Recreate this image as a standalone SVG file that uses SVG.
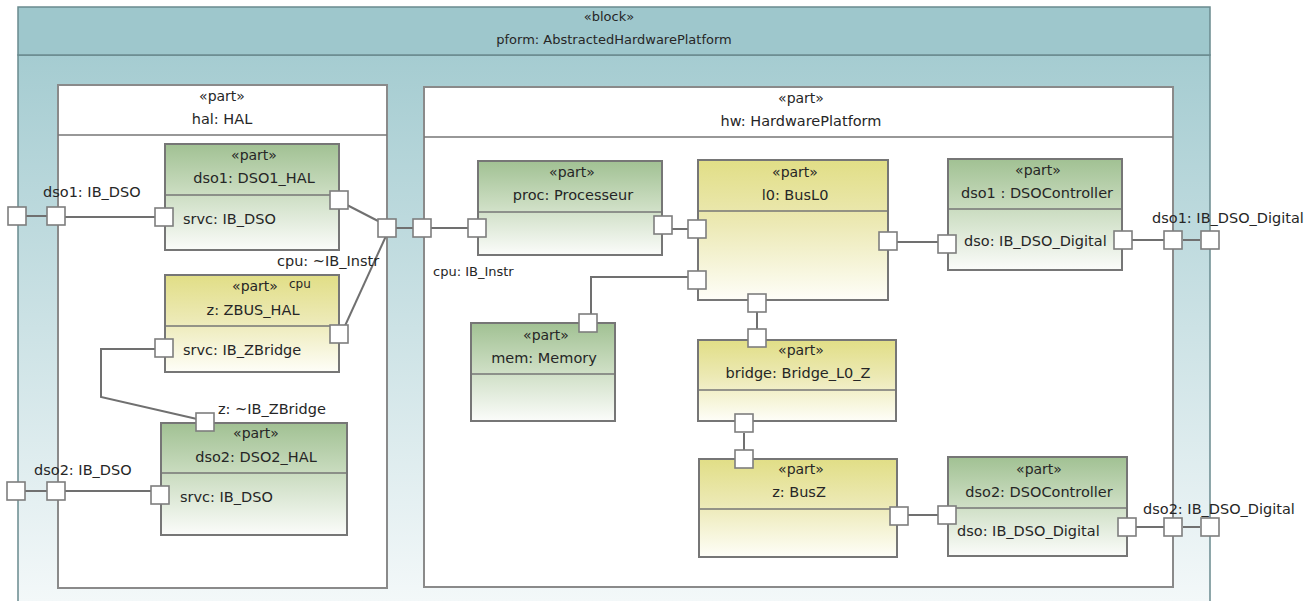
<svg xmlns="http://www.w3.org/2000/svg" width="1316" height="601" viewBox="0 0 1316 601">
<defs>
<linearGradient id="gBody" x1="0" y1="55" x2="0" y2="601" gradientUnits="userSpaceOnUse">
<stop offset="0" stop-color="#a5ccd1"/><stop offset="1" stop-color="#f3f8f9"/>
</linearGradient>
<linearGradient id="gGreen" x1="0" y1="0" x2="0" y2="1">
<stop offset="0" stop-color="#a1c193"/><stop offset="0.45" stop-color="#cadcc0"/><stop offset="1" stop-color="#fbfcfa"/>
</linearGradient>
<linearGradient id="gYellow" x1="0" y1="0" x2="0" y2="1">
<stop offset="0" stop-color="#e1de86"/><stop offset="0.45" stop-color="#ece9b4"/><stop offset="1" stop-color="#fefef8"/>
</linearGradient>
<clipPath id="clipCpu"><rect x="0" y="240" width="380" height="40"/></clipPath>
</defs>
<style>
text{font-family:"DejaVu Sans","Liberation Sans",sans-serif;fill:#262626;font-size:14.5px}
.st{font-size:14px;text-anchor:middle}
.nm{text-anchor:middle}
.lb{font-size:14.5px}
.box{stroke:#767676;stroke-width:2}
.cont{fill:#fff;stroke:#8a8a8a;stroke-width:2}
.div{stroke:#767676;stroke-width:1.3}
.port{fill:#fff;stroke:#7e7e7e;stroke-width:1.6}
.cn{fill:none;stroke:#707070;stroke-width:2}
.green{fill:url(#gGreen)}
.yellow{fill:url(#gYellow)}
</style>

<g id="pform">
<rect x="18" y="55" width="1192" height="550" fill="url(#gBody)" stroke="#6a8a8f" stroke-width="1.5"/>
<rect x="18" y="7" width="1192" height="48" fill="#9ec7cc" stroke="#6a8a8f" stroke-width="1.5"/>
<text class="st" x="609" y="21" style="font-size:13px">«block»</text>
<text class="nm" x="614" y="44" style="font-size:13px">pform: AbstractedHardwarePlatform</text>
</g>

<g id="hal">
<rect class="cont" x="58" y="85" width="329" height="503"/>
<line class="div" x1="58" y1="135" x2="387" y2="135"/>
<text class="st" x="222" y="101">«part»</text>
<text class="nm" x="222" y="124">hal: HAL</text>
</g>

<g id="hw">
<rect class="cont" x="424" y="87" width="749" height="500"/>
<line class="div" x1="424" y1="137" x2="1173" y2="137"/>
<text class="st" x="801" y="103">«part»</text>
<text class="nm" x="801" y="126">hw: HardwarePlatform</text>
</g>

<g id="connectors">
<polyline class="cn" points="26,216 47,216"/>
<polyline class="cn" points="65,217 155,217"/>
<polyline class="cn" points="25,491 47,491"/>
<polyline class="cn" points="65,491 151,491"/>
<polyline class="cn" points="347,205 380,222"/>
<polyline class="cn" points="344,328 386,236"/>
<polyline class="cn" points="396,228 413,228"/>
<polyline class="cn" points="431,228 468,228"/>
<polyline class="cn" points="155,349 101,349 101,397 197,419"/>
<polyline class="cn" points="672,229 688,229"/>
<polyline class="cn" points="591,314 591,277 688,277"/>
<polyline class="cn" points="757,312 757,329"/>
<polyline class="cn" points="744,433 744,450"/>
<polyline class="cn" points="897,242 938,242"/>
<polyline class="cn" points="1132,240 1164,240"/>
<polyline class="cn" points="1183,240 1200,240"/>
<polyline class="cn" points="908,515 938,515"/>
<polyline class="cn" points="1136,527 1164,527"/>
<polyline class="cn" points="1183,527 1200,527"/>
</g>

<g id="dso1_hal">
<rect class="box green" x="165" y="144" width="174" height="106"/>
<line class="div" x1="165" y1="195" x2="339" y2="195"/>
<text class="st" x="254" y="160">«part»</text>
<text class="nm" x="254" y="183">dso1: DSO1_HAL</text>
<text x="183" y="224">srvc: IB_DSO</text>
</g>

<g id="zbus_hal">
<rect class="box yellow" x="165" y="275" width="174" height="97"/>
<line class="div" x1="165" y1="326" x2="339" y2="326"/>
<text class="st" x="255" y="291">«part»</text>
<text x="289" y="288" style="font-size:12px">cpu</text>
<text class="nm" x="253" y="315">z: ZBUS_HAL</text>
<text x="183" y="355">srvc: IB_ZBridge</text>
</g>

<g id="dso2_hal">
<rect class="box green" x="161" y="423" width="186" height="112"/>
<line class="div" x1="161" y1="473" x2="347" y2="473"/>
<text class="st" x="256" y="438">«part»</text>
<text class="nm" x="256" y="462">dso2: DSO2_HAL</text>
<text x="180" y="502">srvc: IB_DSO</text>
</g>

<g id="proc">
<rect class="box green" x="478" y="161" width="184" height="94"/>
<line class="div" x1="478" y1="212" x2="662" y2="212"/>
<text class="st" x="572" y="177">«part»</text>
<text class="nm" x="573" y="200">proc: Processeur</text>
</g>

<g id="l0">
<rect class="box yellow" x="698" y="160" width="190" height="140"/>
<line class="div" x1="698" y1="211" x2="888" y2="211"/>
<text class="st" x="795" y="177">«part»</text>
<text class="nm" x="795" y="200">l0: BusL0</text>
</g>

<g id="dso1_ctrl">
<rect class="box green" x="948" y="159" width="174" height="111"/>
<line class="div" x1="948" y1="209" x2="1122" y2="209"/>
<text class="st" x="1038" y="175">«part»</text>
<text class="nm" x="1037" y="198">dso1 : DSOController</text>
<text x="964" y="246">dso: IB_DSO_Digital</text>
</g>

<g id="mem">
<rect class="box green" x="471" y="323" width="144" height="98"/>
<line class="div" x1="471" y1="374" x2="615" y2="374"/>
<text class="st" x="546" y="340">«part»</text>
<text class="nm" x="544" y="363">mem: Memory</text>
</g>

<g id="bridge">
<rect class="box yellow" x="698" y="340" width="198" height="81"/>
<line class="div" x1="698" y1="390" x2="896" y2="390"/>
<text class="st" x="801" y="355">«part»</text>
<text class="nm" x="798" y="378">bridge: Bridge_L0_Z</text>
</g>

<g id="busz">
<rect class="box yellow" x="699" y="459" width="198" height="98"/>
<line class="div" x1="699" y1="509" x2="897" y2="509"/>
<text class="st" x="801" y="474">«part»</text>
<text class="nm" x="799" y="497">z: BusZ</text>
</g>

<g id="dso2_ctrl">
<rect class="box green" x="948" y="457" width="179" height="99"/>
<line class="div" x1="948" y1="508" x2="1127" y2="508"/>
<text class="st" x="1039" y="474">«part»</text>
<text class="nm" x="1039" y="497">dso2: DSOController</text>
<text x="957" y="536">dso: IB_DSO_Digital</text>
</g>

<g id="labels">
<text class="lb" x="43" y="197">dso1: IB_DSO</text>
<text class="lb" x="34" y="475">dso2: IB_DSO</text>
<text class="lb" x="277" y="266" clip-path="url(#clipCpu)">cpu: ~IB_Instr</text>
<text x="433" y="276" style="font-size:13px">cpu: IB_Instr</text>
<text class="lb" x="218" y="414">z: ~IB_ZBridge</text>
<text class="lb" x="1152" y="223">dso1: IB_DSO_Digital</text>
<text class="lb" x="1143" y="514">dso2: IB_DSO_Digital</text>
</g>

<g id="ports">
<rect class="port" x="8" y="207" width="18" height="18"/>
<rect class="port" x="47" y="207" width="18" height="18"/>
<rect class="port" x="155" y="208" width="18" height="18"/>
<rect class="port" x="330" y="191" width="18" height="18"/>
<rect class="port" x="155" y="339" width="18" height="18"/>
<rect class="port" x="330" y="325" width="18" height="18"/>
<rect class="port" x="196" y="413" width="18" height="18"/>
<rect class="port" x="7" y="482" width="18" height="18"/>
<rect class="port" x="47" y="482" width="18" height="18"/>
<rect class="port" x="151" y="486" width="18" height="18"/>
<rect class="port" x="378" y="219" width="18" height="18"/>
<rect class="port" x="413" y="219" width="18" height="18"/>
<rect class="port" x="468" y="219" width="18" height="18"/>
<rect class="port" x="654" y="216" width="18" height="18"/>
<rect class="port" x="688" y="220" width="18" height="18"/>
<rect class="port" x="688" y="271" width="18" height="18"/>
<rect class="port" x="879" y="232" width="18" height="18"/>
<rect class="port" x="748" y="294" width="18" height="18"/>
<rect class="port" x="579" y="314" width="18" height="18"/>
<rect class="port" x="748" y="329" width="18" height="18"/>
<rect class="port" x="735" y="414" width="18" height="18"/>
<rect class="port" x="735" y="450" width="18" height="18"/>
<rect class="port" x="938" y="235" width="18" height="18"/>
<rect class="port" x="1114" y="231" width="18" height="18"/>
<rect class="port" x="1164" y="231" width="18" height="18"/>
<rect class="port" x="1201" y="231" width="18" height="18"/>
<rect class="port" x="890" y="507" width="18" height="18"/>
<rect class="port" x="938" y="506" width="18" height="18"/>
<rect class="port" x="1118" y="518" width="18" height="18"/>
<rect class="port" x="1164" y="518" width="18" height="18"/>
<rect class="port" x="1201" y="518" width="18" height="18"/>
</g>
</svg>
